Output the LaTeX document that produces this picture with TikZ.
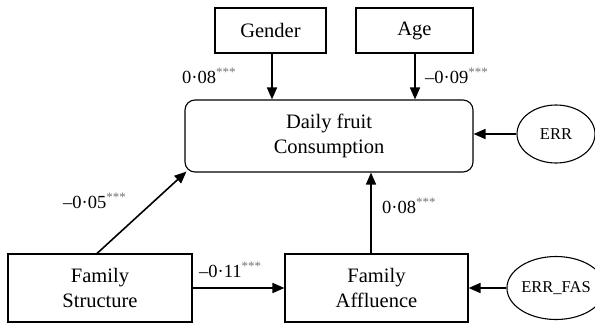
\documentclass[tikz,border=0pt]{standalone}
\usepackage{fontspec}
\setmainfont{Liberation Serif}
\usetikzlibrary{arrows.meta,shapes.geometric}
\newcommand\mystars{\textsuperscript{\color{black!55}***}}
\begin{document}
\begin{tikzpicture}[x=1pt,y=-1pt,
  box/.style={draw,line width=1.1pt,align=center,inner sep=0pt,font=\fontsize{20.5}{25}\selectfont},
  errnode/.style={draw,ellipse,line width=1.1pt,inner sep=0pt,font=\fontsize{16.5}{19}\selectfont},
  path/.style={line width=1.6pt,-{Triangle[length=12pt,width=10pt]}},
  coef/.style={anchor=base west,inner sep=0pt,font=\fontsize{18.5}{22}\selectfont}]
\useasboundingbox (0,0) rectangle (595,325);
\node[box,minimum width=111pt,minimum height=45pt] (gender) at (270.5,30.5) {Gender};
\node[box,minimum width=117pt,minimum height=45pt] (age) at (414.5,30.5) {Age};
\node[box,rounded corners=10pt,minimum width=288pt,minimum height=72pt] (main) at (329,136) {Daily fruit\\Consumption};
\node[box,minimum width=184pt,minimum height=68pt] (fs) at (100,288) {Family\\Structure};
\node[box,minimum width=183pt,minimum height=68pt] (fa) at (376.5,288) {Family\\Affluence};
\node[errnode,minimum width=78pt,minimum height=58pt] (err) at (556,134) {ERR};
\node[errnode,minimum width=77pt,minimum height=63pt] (errfas) at (556,288) {ERR\_FAS};
\draw[path] ([xshift=1.5pt]gender.south) -- ([xshift=1.5pt]gender.south |- main.north);
\draw[path] ([xshift=0.5pt]age.south) -- ([xshift=0.5pt]age.south |- main.north);
\draw[path] ([xshift=-3pt]fs.north) -- ([xshift=2pt,yshift=1pt]main.south west);
\draw[path] ([xshift=-5.5pt]fa.north) -- ([xshift=-5.5pt]fa.north |- main.south);
\draw[path] (fs.east) -- (fa.west);
\draw[path] (err.west) -- (err.west -| main.east);
\draw[path] (errfas.west) -- (fa.east);
\node[coef] (c1) at (182,83) {0·08\mystars};
\node[coef] (c2) at (425,83) {–0·09\mystars};
\node[coef] (c3) at (63,208) {–0·05\mystars};
\node[coef] (c4) at (199,277) {–0·11\mystars};
\node[coef] (c5) at (382,213) {0·08\mystars};
\end{tikzpicture}
\end{document}
